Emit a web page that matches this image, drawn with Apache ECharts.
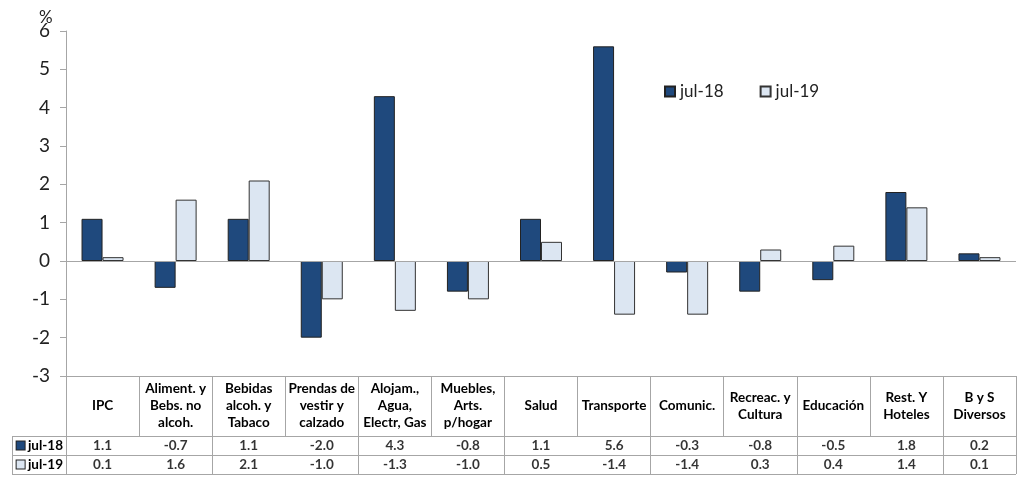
<!DOCTYPE html>
<html>
<head>
<meta charset="utf-8">
<script src="https://cdn.jsdelivr.net/npm/echarts@6/dist/echarts.min.js"></script>
<style>
  html, body { margin: 0; padding: 0; background: #fff; }
  #chart { width: 1018px; height: 489px; }
</style>
</head>
<body>
<div id="chart"></div>
<script>
// data
const categories = ['IPC', 'Aliment. y\nBebs. no\nalcoh.', 'Bebidas\nalcoh. y\nTabaco', 'Prendas de\nvestir y\ncalzado',
  'Alojam.,\nAgua,\nElectr, Gas', 'Muebles,\nArts.\np/hogar', 'Salud', 'Transporte', 'Comunic.',
  'Recreac. y\nCultura', 'Educación', 'Rest. Y\nHoteles', 'B y S\nDiversos']
const seriesNames = ['jul-18', 'jul-19']
const jul18 = [1.1, -0.7, 1.1, -2.0, 4.3, -0.8, 1.1, 5.6, -0.3, -0.8, -0.5, 1.8, 0.2]
const jul19 = [0.1, 1.6, 2.1, -1.0, -1.3, -1.0, 0.5, -1.4, -1.4, 0.3, 0.4, 1.4, 0.1]
const yTicks = { min: -3, max: 6, interval: 1 }

const colors = ['#1F497D', '#DCE6F2']
const gray = '#a6a6a6'
const font = 'Lato, "Open Sans", sans-serif'
const tableFontSize = 13.5

let chart = echarts.init(document.getElementById('chart'))

let tableRow = function(values, row) {
  return {
    type: 'scatter',
    xAxisIndex: 1,
    yAxisIndex: 1,
    symbolSize: 1,
    silent: true,
    itemStyle: { color: 'transparent' },
    label: {
      show: true,
      position: 'inside',
      fontFamily: font,
      fontWeight: 'bold',
      fontSize: tableFontSize,
      color: '#000',
      formatter: function(p) { return values[p.value[0]].toFixed(1) }
    },
    data: values.map(function(v, i) { return [i, row] })
  }
}

let option = {
  animation: false,
  textStyle: { fontFamily: font },
  title: {
    text: '%',
    left: 34,
    top: 4,
    textStyle: { fontFamily: font, fontSize: 17, fontWeight: 'normal', color: '#222' }
  },
  legend: {
    left: 659,
    top: 78,
    icon: 'rect',
    itemWidth: 10,
    itemHeight: 10,
    itemGap: 36,
    textStyle: { fontFamily: font, fontSize: 17, color: '#222' },
    data: seriesNames
  },
  grid: [
    { left: 66, top: 31, width: 950, height: 345 },
    { left: 66, top: 436, width: 950, height: 38 }
  ],
  xAxis: [
    {
      type: 'category',
      gridIndex: 0,
      data: categories,
      axisLine: { onZero: false, lineStyle: { color: gray } },
      axisTick: { show: true, length: 60, lineStyle: { color: gray } },
      axisLabel: {
        interval: 0,
        margin: 30,
        verticalAlign: 'middle',
        fontFamily: font,
        fontWeight: 'bold',
        fontSize: tableFontSize,
        lineHeight: 17,
        color: '#000'
      }
    },
    {
      type: 'category',
      gridIndex: 1,
      position: 'top',
      data: categories,
      axisLine: { show: true, lineStyle: { color: gray } },
      axisTick: { show: false },
      axisLabel: { show: false },
      splitLine: { show: true, lineStyle: { color: gray } }
    }
  ],
  yAxis: [
    {
      type: 'value',
      gridIndex: 0,
      min: yTicks.min,
      max: yTicks.max,
      interval: yTicks.interval,
      axisLine: { show: true, lineStyle: { color: gray } },
      axisTick: { show: true, length: 6, lineStyle: { color: gray } },
      splitLine: { show: false },
      axisLabel: { margin: 16, fontFamily: font, fontSize: 19, color: '#222' }
    },
    {
      type: 'category',
      gridIndex: 1,
      inverse: true,
      data: seriesNames,
      axisLine: { show: true, lineStyle: { color: gray } },
      axisTick: { show: true, length: 54, lineStyle: { color: gray } },
      splitLine: { show: true, lineStyle: { color: gray } },
      axisLabel: {
        margin: 3,
        fontFamily: font,
        fontWeight: 'bold',
        fontSize: tableFontSize,
        color: '#000',
        formatter: function(v, i) { return '{s' + i + '|}' + ' ' + v },
        rich: {
          s0: { width: 8, height: 8, backgroundColor: colors[0], borderColor: '#222', borderWidth: 1 },
          s1: { width: 8, height: 8, backgroundColor: colors[1], borderColor: '#222', borderWidth: 1 }
        }
      }
    }
  ],
  graphic: [
    {
      type: 'line',
      shape: { x1: 12.5, y1: 436, x2: 12.5, y2: 474 },
      style: { stroke: gray, lineWidth: 1 },
      silent: true
    }
  ],
  series: [
    {
      name: seriesNames[0],
      type: 'bar',
      barWidth: 21,
      barGap: 0,
      itemStyle: { color: colors[0], borderColor: '#222', borderWidth: 1 },
      data: jul18,
      markLine: {
        silent: true,
        symbol: ['none', 'none'],
        label: { show: false },
        lineStyle: { color: gray, type: 'solid', width: 1 },
        data: [{ yAxis: 0 }]
      }
    },
    {
      name: seriesNames[1],
      type: 'bar',
      barWidth: 21,
      barGap: 0,
      itemStyle: { color: colors[1], borderColor: '#333', borderWidth: 1 },
      data: jul19
    },
    tableRow(jul18, 0),
    tableRow(jul19, 1)
  ]
}

chart.setOption(option)
</script>
</body>
</html>
